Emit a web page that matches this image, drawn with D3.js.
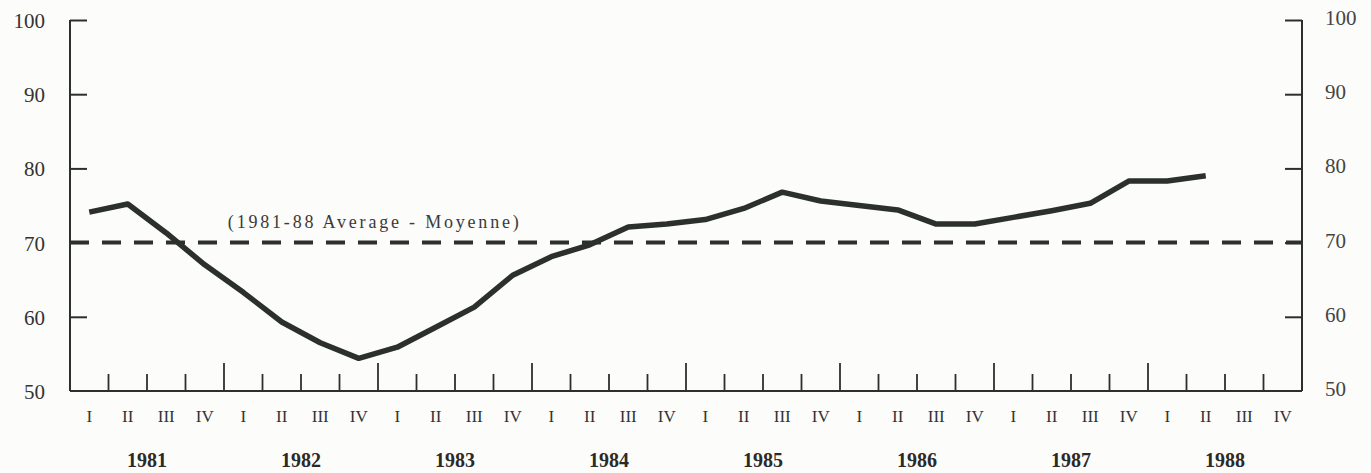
<!DOCTYPE html>
<html>
<head>
<meta charset="utf-8">
<script src="https://cdn.jsdelivr.net/npm/d3@7"></script>
<style>
  body { margin: 0; background: #fcfcfa; }
  svg { display: block; font-family: "Liberation Serif", "DejaVu Serif", serif; }
</style>
</head>
<body>
<svg id="chart"></svg>
<script>
// quarters and years
var years = ["1981", "1982", "1983", "1984", "1985", "1986", "1987", "1988"];
var quarters = ["I", "II", "III", "IV"];

// index values, one per quarter (1981 I .. 1988 II)
var values = [74.1, 75.2, 71.3, 67.0, 63.3, 59.3, 56.5, 54.4,
              55.9, 58.6, 61.3, 65.6, 68.1, 69.7, 72.1, 72.5,
              73.1, 74.6, 76.8, 75.6, 75.0, 74.4, 72.5, 72.5,
              73.4, 74.3, 75.3, 78.3, 78.3, 79.0];

var average = 70;
var averageLabel = "(1981-88 Average - Moyenne)";
var yTicks = [50, 60, 70, 80, 90, 100];

var size = { width: 1371, height: 473 };
var margin = { top: 20, right: 69, bottom: 82, left: 70 };

var width = size.width - margin.left - margin.right;
var height = size.height - margin.top - margin.bottom;

var svg = d3.select("#chart")
  .attr("width", size.width)
  .attr("height", size.height)
  .append("g")
    .attr("transform", "translate(" + margin.left + "," + margin.top + ")");

var nq = years.length * 4;

var x = d3.scaleLinear()
  .domain([0, nq])
  .range([0, width]);

var y = d3.scaleLinear()
  .domain([50, 100])
  .range([height, 0]);

var ink = "#2b302d";

// y axes (left and right)
var yLeft = d3.axisRight(y).tickValues(yTicks.filter(function(d){ return d > 50; }))
  .tickSize(17).tickFormat("");
var yRight = d3.axisLeft(y).tickValues(yTicks.filter(function(d){ return d > 50; }))
  .tickSize(17).tickFormat("");

svg.append("g").attr("class", "y axis left").call(yLeft);
svg.append("g").attr("class", "y axis right")
  .attr("transform", "translate(" + width + ",0)")
  .call(yRight);

svg.selectAll(".y.axis path.domain")
  .attr("d", "M0," + y(100) + "V" + height);
svg.selectAll(".y.axis .tick line").attr("stroke", ink).attr("stroke-width", 2);
svg.selectAll(".y.axis path.domain").attr("stroke", ink).attr("stroke-width", 2);

// y labels
svg.selectAll(".ylab-left")
  .data(yTicks)
  .enter().append("text")
  .attr("class", "ylab-left")
  .attr("x", -25)
  .attr("y", function(d){ return y(d) + 8; })
  .attr("text-anchor", "end")
  .attr("font-size", 21)
  .attr("fill", "#333")
  .text(function(d){ return d; });

svg.selectAll(".ylab-right")
  .data(yTicks)
  .enter().append("text")
  .attr("class", "ylab-right")
  .attr("x", width + 23)
  .attr("y", function(d){ return y(d) + 5; })
  .attr("text-anchor", "start")
  .attr("font-size", 21)
  .attr("fill", "#444")
  .text(function(d){ return d; });

// x axis baseline with quarter ticks
var qTicks = d3.range(1, nq);
svg.append("line")
  .attr("x1", 0).attr("x2", width)
  .attr("y1", height).attr("y2", height)
  .attr("stroke", ink).attr("stroke-width", 2);

svg.selectAll(".qtick")
  .data(qTicks)
  .enter().append("line")
  .attr("class", "qtick")
  .attr("x1", function(d){ return x(d); })
  .attr("x2", function(d){ return x(d); })
  .attr("y1", height)
  .attr("y2", function(d){ return d % 4 == 0 ? height - 28 : height - 17; })
  .attr("stroke", ink)
  .attr("stroke-width", 1.8);

// quarter labels
var qLabels = d3.range(nq).map(function(i){ return { i: i, q: quarters[i % 4] }; });
svg.selectAll(".qlab")
  .data(qLabels)
  .enter().append("text")
  .attr("class", "qlab")
  .attr("x", function(d){ return x(d.i + 0.5); })
  .attr("y", height + 31)
  .attr("text-anchor", "middle")
  .attr("font-size", 17)
  .attr("fill", "#333")
  .text(function(d){ return d.q; });

// year labels
svg.selectAll(".ylabel")
  .data(years)
  .enter().append("text")
  .attr("class", "ylabel")
  .attr("x", function(d, i){ return x(i * 4 + 2); })
  .attr("y", height + 76)
  .attr("text-anchor", "middle")
  .attr("font-size", 20)
  .attr("font-weight", "bold")
  .attr("fill", "#2a2a2a")
  .text(function(d){ return d; });

// average dashed line
svg.append("line")
  .attr("x1", 0).attr("x2", width)
  .attr("y1", y(average)).attr("y2", y(average))
  .attr("stroke", ink)
  .attr("stroke-width", 4)
  .attr("stroke-dasharray", "19,13");

svg.append("text")
  .attr("x", x(4.1))
  .attr("y", y(average) - 15)
  .attr("font-size", 18)
  .attr("letter-spacing", 2.8)
  .attr("fill", "#3a3a3a")
  .text(averageLabel);

// main series
var line = d3.line()
  .x(function(d, i){ return x(i + 0.5); })
  .y(function(d){ return y(d); });

svg.append("path")
  .datum(values)
  .attr("class", "line")
  .attr("d", line)
  .attr("fill", "none")
  .attr("stroke", ink)
  .attr("stroke-width", 5.5)
  .attr("stroke-linejoin", "round");
</script>
</body>
</html>
